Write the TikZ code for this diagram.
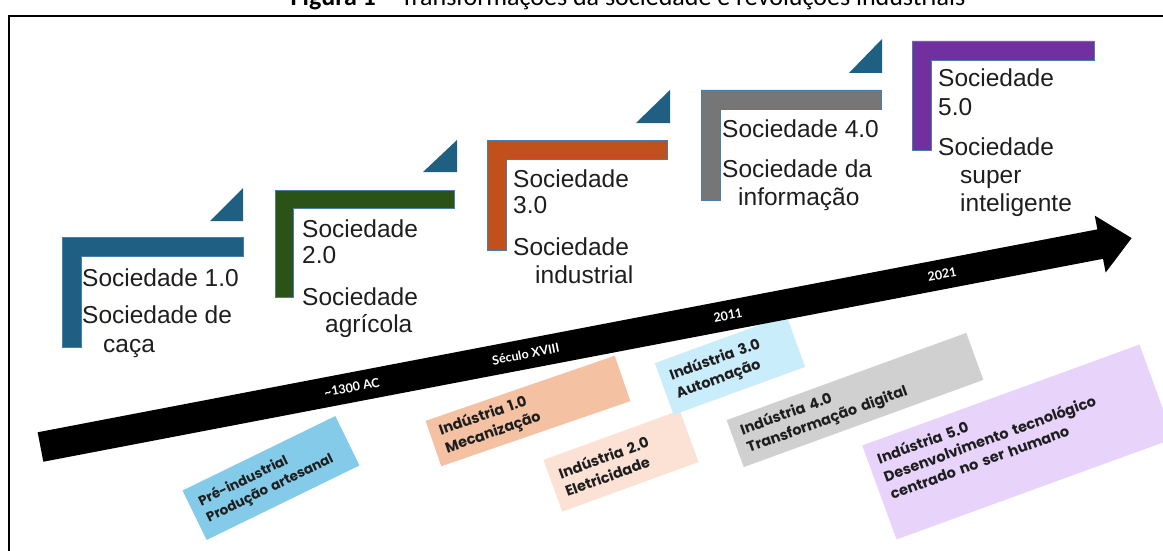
\documentclass[tikz,border=0pt]{standalone}
\usepackage{fontspec}
\newfontfamily\socfont{Liberation Sans}
\newfontfamily\boxfont{Poppins}
\newfontfamily\datefont{Lato}
\newfontfamily\titlefont{Carlito}
\definecolor{sblue}{HTML}{1F5F82}
\definecolor{sgreen}{HTML}{2B5318}
\definecolor{sorange}{HTML}{C0501C}
\definecolor{sgray}{HTML}{767676}
\definecolor{spurple}{HTML}{7030A0}
\definecolor{outl}{HTML}{4A7EA8}
\definecolor{cpre}{HTML}{84CBEA}
\definecolor{cone}{HTML}{F4C2A3}
\definecolor{ctwo}{HTML}{FBE2D5}
\definecolor{cthree}{HTML}{CAEDFB}
\definecolor{cfour}{HTML}{D0D0D0}
\definecolor{cfive}{HTML}{E8D3FB}
\definecolor{txt}{HTML}{1E1E1E}
\tikzset{
  lbar/.style={draw=outl, line width=0.8pt},
  tri/.style={fill=sblue},
  soc/.style={anchor=base west, inner sep=0pt, font=\socfont\fontsize{24.5}{28}\selectfont, text=txt},
  ibox/.style={inner xsep=10pt, inner ysep=4pt, align=left, font=\boxfont\bfseries\fontsize{14.5}{19}\selectfont, text=txt},
  datelbl/.style={text=white, font=\datefont\bfseries\fontsize{12.5}{14}\selectfont, rotate=10.84, inner sep=0pt}
}
\begin{document}
\begin{tikzpicture}[x=1pt,y=-1pt]
\useasboundingbox (0,0) rectangle (1163,551);
\clip (0,0) rectangle (1163,551);
\fill[white] (0,0) rectangle (1163,551);
% title and frame
\node[anchor=base, inner sep=0pt, font=\titlefont\fontsize{26}{30}\selectfont] (title) at (628,6) {\bfseries Figura 1\mdseries{} – Transformações da sociedade e revoluções industriais};
\draw[line width=1.6pt] (9,600) -- (9,16) -- (1200,16);
% society L shapes
\path[lbar, fill=sblue] (62,237) -- (243,237) -- (243,256) -- (81,256) -- (81,347) -- (62,347) -- cycle;
\path[lbar, fill=sgreen] (275,190) -- (454,190) -- (454,208) -- (293,208) -- (293,297) -- (275,297) -- cycle;
\path[lbar, fill=sorange] (487,140) -- (667,140) -- (667,159) -- (506,159) -- (506,250) -- (487,250) -- cycle;
\path[lbar, fill=sgray] (701,90) -- (881,90) -- (881,109) -- (720,109) -- (720,200) -- (701,200) -- cycle;
\path[lbar, fill=spurple] (912,41) -- (1094,41) -- (1094,60) -- (931,60) -- (931,150) -- (912,150) -- cycle;
% triangles
\fill[tri] (243,188) -- (243,221) -- (210,221) -- cycle;
\fill[tri] (457,140) -- (457,172) -- (423,172) -- cycle;
\fill[tri] (670,90) -- (670,123) -- (636,123) -- cycle;
\fill[tri] (882,39) -- (882,73) -- (849,73) -- cycle;
% society texts
\node[soc] (s1a) at (82,286) {Sociedade 1.0};
\node[soc] (s1b) at (82,323) {Sociedade de};
\node[soc] (s1c) at (103,352) {caça};
\node[soc] (s2a) at (302,237) {Sociedade};
\node[soc] (s2b) at (302,263) {2.0};
\node[soc] (s2c) at (302,305) {Sociedade};
\node[soc] (s2d) at (325,332) {agrícola};
\node[soc] (s3a) at (513,187) {Sociedade};
\node[soc] (s3b) at (513,213) {3.0};
\node[soc] (s3c) at (513,255) {Sociedade};
\node[soc] (s3d) at (535,283) {industrial};
\node[soc] (s4a) at (722,137) {Sociedade 4.0};
\node[soc] (s4b) at (722,177) {Sociedade da};
\node[soc] (s4c) at (738,205) {informação};
\node[soc] (s5a) at (938,87) {Sociedade};
\node[soc] (s5b) at (938,115) {5.0};
\node[soc] (s5c) at (938,155) {Sociedade};
\node[soc] (s5d) at (960,183) {super};
\node[soc] (s5e) at (960,211) {inteligente};
% industry boxes
\node[ibox, fill=cpre, rotate=26, text width=150pt, minimum height=55pt, font=\boxfont\bfseries\fontsize{13.5}{18}\selectfont] (b0) at (271,478) {Pré-industrial\\Produção artesanal};
\node[ibox, fill=ctwo, rotate=20, text width=125pt, minimum height=55pt] (b2) at (621,461) {Indústria 2.0\\Eletricidade};
\node[ibox, fill=cone, rotate=19, text width=180pt, minimum height=48pt] (b1) at (528,411) {Indústria 1.0\\Mecanização};
\node[ibox, fill=cthree, rotate=20, text width=120pt, minimum height=55pt] (b3) at (730,365) {Indústria 3.0\\Automação};
\node[ibox, fill=cfour, rotate=20, text width=235pt, minimum height=50pt] (b4) at (855,400) {Indústria 4.0\\Transformação digital};
\node[ibox, fill=cfive, rotate=20, text width=275pt, minimum height=100pt] (b5) at (1018,442) {Indústria 5.0\\Desenvolvimento tecnológico\\centrado no ser humano\\[8pt]\mbox{}};
% timeline arrow
\begin{scope}[shift={(40.5,447)}, rotate=10.84]
\coordinate (tail) at (0,0);
\coordinate (tip) at (1111,0);
\fill[black] (0,-15) -- (1079,-15) -- (1079,-29) -- (tip) -- (1079,29) -- (1079,15) -- (0,15) -- cycle;
\node[datelbl] (d1) at (317,0) {\textasciitilde1300 AC};
\node[datelbl] (d2) at (494,0) {Século XVIII};
\node[datelbl] (d3) at (700,0) {2011};
\node[datelbl] (d4) at (918,0) {2021};
\end{scope}
\end{tikzpicture}
\end{document}
